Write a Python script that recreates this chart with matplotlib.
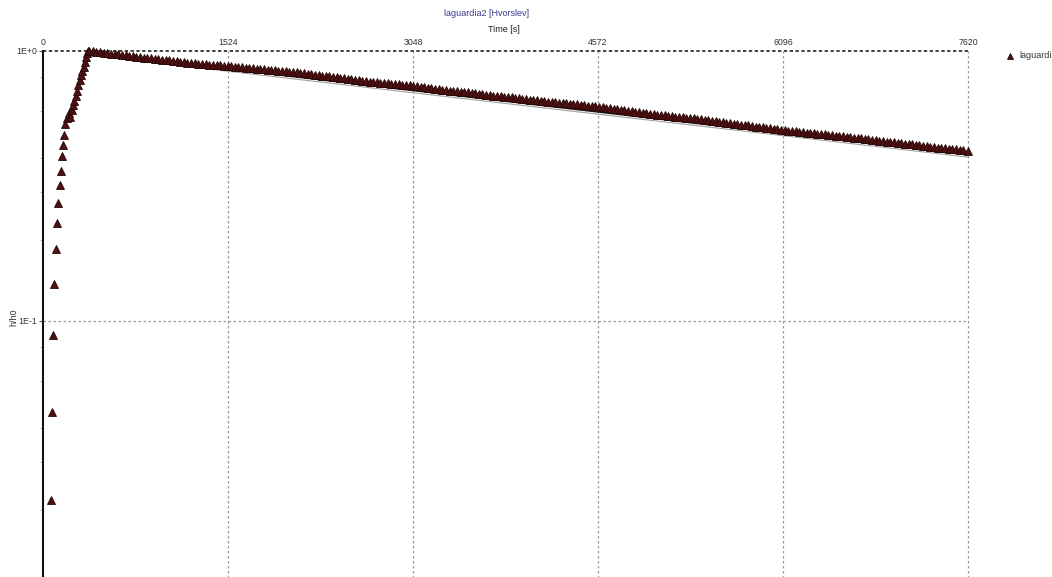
import matplotlib
matplotlib.use("Agg")
import matplotlib.pyplot as plt
from matplotlib.ticker import FixedLocator, NullFormatter
from matplotlib.lines import Line2D

plt.rcParams['font.family'] = ['Liberation Sans', 'DejaVu Sans']

# rising part of the test (time [s], h/h0)
rise_t = [63, 72, 85, 93, 107, 115, 126, 140, 146, 159, 162, 171, 179, 195,
          217, 222, 236, 250, 258, 269, 280, 291, 302, 313, 324, 335, 346, 354, 360]
rise_v = [0.0217, 0.046, 0.0887, 0.137, 0.185, 0.231, 0.273, 0.319, 0.360, 0.409,
          0.449, 0.489, 0.537, 0.565, 0.589, 0.570, 0.604, 0.631, 0.653, 0.681,
          0.711, 0.748, 0.781, 0.815, 0.843, 0.872, 0.910, 0.950, 0.983]

# recovery part, logged every 30 s after the peak
decay_t = [370] + list(range(380, 7600, 30)) + [7620]
decay_v = [1.000,
           0.999, 0.996, 0.992, 0.988, 0.984, 0.981, 0.977, 0.974, 0.971, 0.967,
           0.964, 0.960, 0.957, 0.953, 0.950, 0.946, 0.943, 0.940, 0.936, 0.933,
           0.930, 0.926, 0.923, 0.919, 0.916, 0.913, 0.910, 0.906, 0.903, 0.900,
           0.897, 0.894, 0.892, 0.890, 0.888, 0.886, 0.885, 0.883, 0.881, 0.878,
           0.876, 0.873, 0.871, 0.868, 0.866, 0.863, 0.861, 0.858, 0.856, 0.853,
           0.851, 0.848, 0.846, 0.843, 0.841, 0.838, 0.836, 0.833, 0.831, 0.827,
           0.824, 0.821, 0.818, 0.814, 0.811, 0.808, 0.805, 0.801, 0.798, 0.795,
           0.792, 0.789, 0.786, 0.782, 0.779, 0.776, 0.773, 0.770, 0.768, 0.765,
           0.763, 0.761, 0.759, 0.756, 0.754, 0.752, 0.750, 0.748, 0.746, 0.743,
           0.741, 0.738, 0.735, 0.732, 0.729, 0.726, 0.723, 0.720, 0.717, 0.714,
           0.712, 0.709, 0.707, 0.704, 0.702, 0.699, 0.697, 0.694, 0.692, 0.689,
           0.687, 0.684, 0.682, 0.680, 0.678, 0.675, 0.673, 0.670, 0.668, 0.666,
           0.664, 0.661, 0.659, 0.656, 0.654, 0.652, 0.650, 0.648, 0.646, 0.644,
           0.642, 0.640, 0.638, 0.636, 0.634, 0.632, 0.630, 0.628, 0.626, 0.624,
           0.622, 0.619, 0.617, 0.614, 0.611, 0.608, 0.606, 0.603, 0.601, 0.598,
           0.595, 0.592, 0.590, 0.587, 0.585, 0.583, 0.581, 0.579, 0.577, 0.575,
           0.574, 0.572, 0.570, 0.568, 0.567, 0.565, 0.563, 0.561, 0.559, 0.556,
           0.554, 0.552, 0.550, 0.547, 0.545, 0.543, 0.541, 0.538, 0.536, 0.534,
           0.532, 0.530, 0.528, 0.525, 0.523, 0.521, 0.519, 0.517, 0.515, 0.512,
           0.510, 0.508, 0.507, 0.505, 0.504, 0.502, 0.500, 0.498, 0.497, 0.495,
           0.494, 0.492, 0.491, 0.489, 0.488, 0.486, 0.485, 0.483, 0.481, 0.479,
           0.478, 0.476, 0.475, 0.473, 0.471, 0.469, 0.468, 0.466, 0.464, 0.462,
           0.461, 0.459, 0.457, 0.455, 0.454, 0.452, 0.451, 0.449, 0.447, 0.445,
           0.444, 0.442, 0.441, 0.439, 0.438, 0.436, 0.435, 0.433, 0.432, 0.430,
           0.429,
           0.427]

# Hvorslev straight-line fit
fit_t = [370, 7620]
fit_v = [0.984, 0.412]

x_ticks = [0, 1524, 3048, 4572, 6096, 7620]
y_ticks = [1e-1, 1e0]
y_labels = ['1E-1', '1E+0']

marker_face = '#4e1010'
marker_edge = '#260606'

fig = plt.figure(figsize=(10.52, 5.77), dpi=100)
# axes runs a bit below the picture, like in the original screenshot
ax = fig.add_axes([43 / 1052, (577 - 591) / 577, 925 / 1052, 540 / 577])

ax.set_yscale('log')
ax.set_xlim(0, 7620)
ax.set_ylim(0.01, 1.0)

# grid
for xt in x_ticks[1:]:
    ax.axvline(xt, color='#9a9a9a', lw=0.9, ls=(0, (2, 2)), zorder=1, clip_on=False)
ax.axhline(0.1, color='#9a9a9a', lw=0.9, ls=(0, (2, 2)), zorder=1)
ax.axhline(1.0, color='#222222', lw=1.2, ls=(0, (2, 1.5)), zorder=1, clip_on=False)

# data
ax.plot(fit_t, [v * 0.982 for v in fit_v], color='#a0a0a0', lw=0.8, zorder=2)
ax.plot(fit_t, fit_v, color='#1a1a1a', lw=1.0, zorder=2)
ax.plot(rise_t + decay_t, rise_v + decay_v, ls='none', marker='^', markersize=5.2,
        markerfacecolor=marker_face, markeredgecolor=marker_edge, markeredgewidth=0.6,
        zorder=3, clip_on=False)

# spines
for s in ['top', 'right', 'bottom']:
    ax.spines[s].set_visible(False)
ax.spines['left'].set_linewidth(1.5)
ax.spines['left'].set_color('#111111')

# ticks
ax.xaxis.tick_top()
ax.set_xticks(x_ticks)
ax.set_xticklabels([str(v) for v in x_ticks])
ax.tick_params(axis='x', length=0, pad=3, labelsize=6.3, labelcolor='#333333')
ax.yaxis.set_major_locator(FixedLocator(y_ticks))
ax.set_yticklabels(y_labels)
ax.yaxis.set_minor_locator(FixedLocator([0.02, 0.03, 0.04, 0.06, 0.08,
                                         0.2, 0.3, 0.4, 0.6, 0.8]))
ax.yaxis.set_minor_formatter(NullFormatter())
ax.tick_params(axis='y', which='major', length=3, width=0.8, color='#555555',
               pad=1.5, labelsize=6.3, labelcolor='#333333')
ax.tick_params(axis='y', which='minor', length=2, width=0.6, color='#aaaaaa')

# titles
fig.text(487 / 1052, 1 - 14 / 577, 'laguardia2 [Hvorslev]', ha='center', va='center',
         fontsize=6.5, color='#3a3a8a')
fig.text(504 / 1052, 1 - 30 / 577, 'Time [s]', ha='center', va='center',
         fontsize=6.5, color='#222222')
fig.text(14 / 1052, 1 - 317 / 577, 'h/h0', ha='center', va='center', rotation=90,
         fontsize=6.5, color='#333333')

# legend (cut off at the right edge as in the original)
fig.add_artist(Line2D([1010 / 1052], [1 - 56 / 577], ls='none', marker='^', markersize=5,
                      markerfacecolor=marker_face, markeredgecolor=marker_edge,
                      markeredgewidth=0.6, transform=fig.transFigure))
fig.text(1019 / 1052, 1 - 56 / 577, 'laguardia2', ha='left', va='center',
         fontsize=6.5, color='#333333')

fig.savefig('out.png', dpi=100)
